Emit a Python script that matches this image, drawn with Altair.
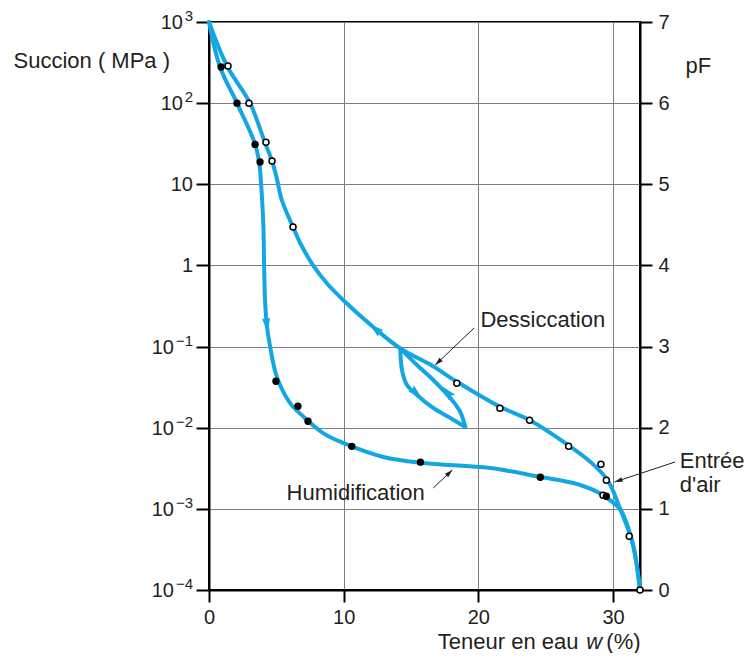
import altair as alt
import pandas as pd

BLUE = "#14a6e2"
INK = "#231f20"
FONT = "Liberation Sans"

# ---- curves: water content w (%) , suction (MPa)
dry_w = [32.0, 31.45, 30.56, 29.59, 28.33, 26.77, 23.79, 21.64, 18.44, 16.43, 14.2,
         12.19, 9.96, 8.75, 7.73, 6.77, 6.24, 5.4, 5.06, 4.68, 4.16, 3.05, 1.34, 0.0]
dry_s = [1e-4, 3.79e-4, 9.7e-4, 2.26e-3, 3.78e-3, 5.94e-3, 0.01245, 0.018, 0.0366, 0.060, 0.095,
         0.174, 0.375, 0.603, 1.0, 1.89, 2.97, 6.4, 11.3, 19.4, 32.3, 100, 287, 1000]

wet_w = [0.0, 0.82, 2.08, 3.42, 3.72, 3.87, 4.04, 4.09, 4.16, 4.29, 4.54, 5.03, 6.02, 7.01,
         8.5, 9.96, 12.94, 15.91, 20.89, 24.61, 27.06, 28.85, 29.96, 30.56, 31.45, 32.0]
wet_s = [1000, 279, 100, 31.3, 18.8, 10.0, 3.0, 1.0, 0.375, 0.185, 0.0995, 0.0426, 0.0201,
         0.0137, 0.00853, 0.00649, 0.00436, 0.00367, 0.00318, 0.00247, 0.00208, 0.00161,
         0.00121, 0.00097, 3.79e-4, 1e-4]

# scanning loop (two branches meeting at a cusp)
loop1_w = [14.2, 14.33, 14.7, 15.44, 16.65, 17.92, 19.03]
loop1_s = [0.095, 0.0514, 0.0336, 0.0253, 0.0175, 0.0132, 0.0102]
loop2_w = [19.03, 18.66, 18.04, 16.65, 15.44, 14.2]
loop2_s = [0.0102, 0.0156, 0.0219, 0.0387, 0.0593, 0.095]

# measured points
open_w = [1.41, 2.97, 4.23, 4.68, 6.24, 18.4, 21.6, 23.8, 26.7, 29.1, 29.5, 29.25, 31.2, 32.0]
open_s = [287, 100, 33, 19.3, 2.97, 0.0354, 0.0174, 0.0124, 0.0059, 0.00355, 0.00225,
          0.00147, 4.6e-4, 1e-4]
full_w = [0.9, 2.08, 3.42, 3.79, 4.97, 6.6, 7.35, 10.6, 15.7, 24.6, 29.5]
full_s = [279, 100, 31, 18.8, 0.0374, 0.0184, 0.012, 0.0059, 0.00376, 0.00245, 0.00143]

# direction arrowheads on the curves
head_w = [4.29, 12.34, 15.39, 17.7]
head_s = [0.185, 0.165, 0.0268, 0.0275]
head_a = [174, 309, 131, 320]

# annotation labels and their pointers
ptr_w0 = [19.67, 16.65, 34.6]
ptr_s0 = [0.169, 0.00181, 0.00378]
ptr_w1 = [16.8, 18.07, 30.11]
ptr_s1 = [0.0593, 0.00301, 0.00214]
ptr_a = [226, 47, 252]

lab_text = ["Dessiccation", "Humidification", "Entrée", "d'air"]
lab_w = [20.15, 10.89, 34.95, 34.95]
lab_s = [0.212, 0.00157, 0.00389, 0.00197]
lab_align = ["left", "center", "left", "left"]

xt_text = ["Teneur en eau", "w", "(%)"]
xt_w = [27.43, 28.59, 29.5]
xt_s = [1.9e-5, 1.9e-5, 1.9e-5]

x_ticks = [0, 10, 20, 30]
y_ticks = [1e-4, 1e-3, 1e-2, 1e-1, 1, 10, 100, 1000]
y_tick_base = ["10", "10", "10", "10", "1", "10", "10", "10"]
y_tick_exp = ["\u22124", "\u22123", "\u22122", "\u22121", "", "", "2", "3"]
y_base_px = [-35, -35, -35, -35, -16, -16, -26, -26]
pf_ticks = [0, 1, 2, 3, 4, 5, 6, 7]

# ---- tables
def curve(ws, ss):
    return pd.DataFrame({"w": ws, "s": ss, "i": list(range(len(ws)))})

X = alt.X("w:Q", scale=alt.Scale(domain=[0, 32], nice=False, zero=False),
          axis=alt.Axis(values=x_ticks, title="", grid=True, gridColor="#7d7d7d", gridWidth=1,
                        tickSize=12, tickWidth=2, tickColor="black", domainColor="black",
                        domainWidth=2, labelFontSize=20, labelFont=FONT, labelColor=INK,
                        labelPadding=5, labelFlush=False))
Y = alt.Y("s:Q", scale=alt.Scale(type="log", domain=[1e-4, 1000], nice=False),
          axis=alt.Axis(values=y_ticks, grid=True, gridColor="#7d7d7d", gridWidth=1,
                        labels=False,
                        tickSize=13, tickWidth=2, tickColor="black", domainColor="black",
                        domainWidth=2,
                        title="Succion ( MPa )", titleAngle=0, titleAlign="left",
                        titleBaseline="middle", titleX=-196, titleY=38, titleFont=FONT,
                        titleFontSize=22, titleFontWeight="normal", titleColor=INK))

def line_layer(df):
    return alt.Chart(df).mark_line(color=BLUE, strokeWidth=4, interpolate="catmull-rom",
                                   strokeCap="round").encode(x=X, y=Y, order="i:Q")

layers = [
    line_layer(curve(dry_w, dry_s)),
    line_layer(curve(wet_w, wet_s)),
    line_layer(curve(loop1_w, loop1_s)),
    line_layer(curve(loop2_w, loop2_s)),
]

heads = pd.DataFrame({"w": head_w, "s": head_s, "a": head_a})
layers.append(alt.Chart(heads).mark_point(shape="M0,-1L0.6,1L0,0.7L-0.6,1Z", filled=True,
                                          color=BLUE, opacity=1, size=200)
              .encode(x=X, y=Y, angle=alt.Angle("a:Q", scale=None)))

ptr = pd.DataFrame({"w": ptr_w0, "s": ptr_s0, "w2": ptr_w1, "s2": ptr_s1, "a": ptr_a})
layers.append(alt.Chart(ptr).mark_rule(color=INK, strokeWidth=1)
              .encode(x=X, y=Y, x2="w2:Q", y2="s2:Q"))
tips = pd.DataFrame({"w": ptr_w1, "s": ptr_s1, "a": ptr_a})
layers.append(alt.Chart(tips).mark_point(shape="M0,0L0.6,2L-0.6,2Z", filled=True, color=INK,
                                         opacity=1, size=64)
              .encode(x=X, y=Y, angle=alt.Angle("a:Q", scale=None)))

layers.append(alt.Chart(pd.DataFrame({"w": open_w, "s": open_s}))
              .mark_point(shape="circle", filled=True, fill="white", stroke="black",
                          strokeWidth=1.5, opacity=1, size=36)
              .encode(x=X, y=Y))
layers.append(alt.Chart(pd.DataFrame({"w": full_w, "s": full_s}))
              .mark_point(shape="circle", filled=True, color="black", opacity=1, size=54)
              .encode(x=X, y=Y))

labs = pd.DataFrame({"t": lab_text, "w": lab_w, "s": lab_s, "al": lab_align})
for al in ["left", "center"]:
    layers.append(alt.Chart(labs[labs["al"] == al])
                  .mark_text(align=al, baseline="middle", font=FONT, fontSize=22, color=INK)
                  .encode(x=X, y=Y, text="t:N"))

xt = pd.DataFrame({"t": xt_text, "w": xt_w, "s": xt_s})
layers.append(alt.Chart(xt.iloc[[0]]).mark_text(align="right", baseline="alphabetic", font=FONT,
                                                fontSize=22, color=INK)
              .encode(x=X, y=Y, text="t:N"))
layers.append(alt.Chart(xt.iloc[[1]]).mark_text(align="center", baseline="alphabetic", font=FONT,
                                                fontSize=22, fontStyle="italic", color=INK)
              .encode(x=X, y=Y, text="t:N"))
layers.append(alt.Chart(xt.iloc[[2]]).mark_text(align="left", baseline="alphabetic", font=FONT,
                                                fontSize=22, color=INK)
              .encode(x=X, y=Y, text="t:N"))

# left tick labels: base and superscript exponent
ticks_df = pd.DataFrame({"s": y_ticks, "b": y_tick_base, "e": y_tick_exp, "px": y_base_px})
layers.append(alt.Chart(ticks_df).mark_text(align="right", baseline="middle", font=FONT,
                                            fontSize=20, color=INK, dy=1)
              .encode(x=alt.X("px:Q", scale=None), y=Y, text="b:N"))
layers.append(alt.Chart(ticks_df).mark_text(align="right", baseline="middle", font=FONT,
                                            fontSize=15, color=INK, dy=-6)
              .encode(x=alt.value(-16), y=Y, text="e:N"))

main = alt.layer(*layers)

pf = alt.Chart(pd.DataFrame({"pF": pf_ticks, "w": [0] * len(pf_ticks)})).mark_point(opacity=0).encode(
    x=X,
    y=alt.Y("pF:Q", scale=alt.Scale(domain=[0, 7], nice=False),
            axis=alt.Axis(orient="right", values=pf_ticks, grid=False, tickSize=12, tickWidth=2,
                          tickColor="black", domainColor="black", domainWidth=2,
                          labelFontSize=20, labelFont=FONT, labelColor=INK, labelPadding=6,
                          labelFlush=False, title="pF", titleAngle=0, titleAlign="left",
                          titleBaseline="middle", titleX=45, titleY=43, titleFont=FONT,
                          titleFontSize=22, titleFontWeight="normal", titleColor=INK)),
)

chart = (alt.layer(main, pf)
         .resolve_scale(y="independent")
         .properties(width=431, height=568,
                     autosize=alt.AutoSizeParams(type="none"),
                     padding={"left": 201, "top": 14, "right": 104, "bottom": 63},
                     background="white")
         .configure_view(stroke="black", strokeWidth=2))

chart.save("out.html", embed_options={"renderer": "svg", "actions": False})
